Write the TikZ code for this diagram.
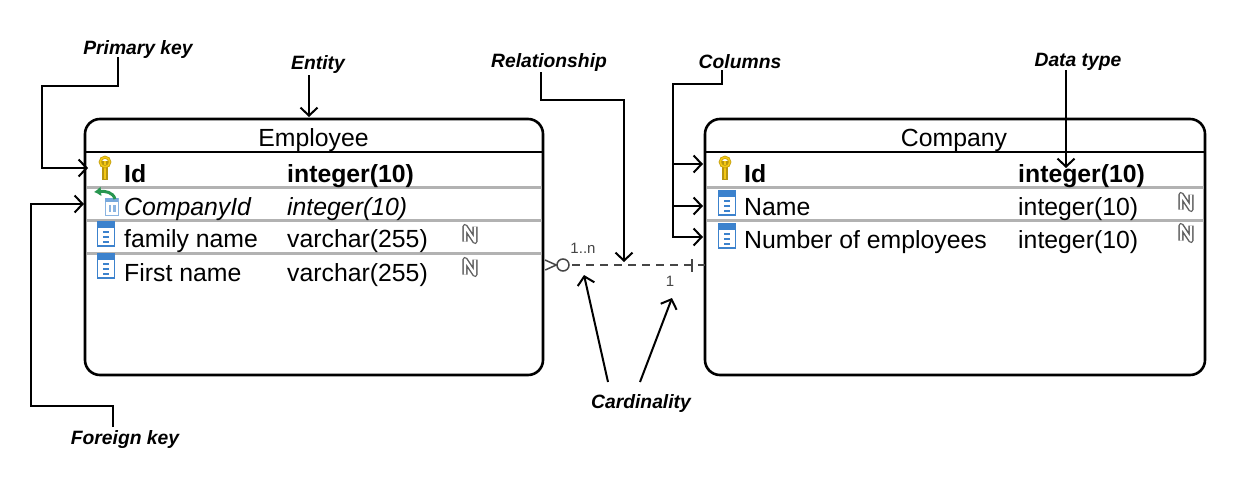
\documentclass[tikz,border=0pt]{standalone}
\usepackage{fontspec}
\setmainfont{Liberation Sans}
\usetikzlibrary{positioning,arrows.meta,calc}
\definecolor{rowline}{RGB}{178,178,178}
\definecolor{keygold}{RGB}{245,200,20}
\definecolor{iconblue}{RGB}{60,130,205}
\definecolor{fkgreen}{RGB}{40,150,80}
\definecolor{relgray}{RGB}{70,70,70}
\newcommand{\cellsize}{\fontsize{24.8}{28}\selectfont}
\tikzset{
  entity/.style={draw,line width=2.6pt,rounded corners=15pt,minimum width=#1,minimum height=256pt,inner sep=0pt,outer sep=0pt},
  title/.style={inner sep=0pt,anchor=base,font=\cellsize},
  cell/.style={inner sep=0pt,anchor=base west,font=\cellsize},
  note/.style={inner sep=0pt,font=\fontsize{19.3}{22}\selectfont\bfseries\itshape},
  mult/.style={inner sep=0pt,text=relgray,font=\fontsize{15}{18}\selectfont},
  pointer/.style={line width=2pt,-{Straight Barb[length=8pt,width=17pt,line width=2pt]}},
  rowsep/.style={rowline,line width=3pt},
  keyicon/.pic={
    \fill[keygold!75!black] (-2.6,-6) rectangle (2.6,13);
    \fill[keygold] (-1.3,-6) rectangle (1.3,12);
    \draw[keygold!80!black,line width=3pt] (0,-5) circle (4.8);
    \draw[keygold,line width=1.4pt] (0,-5) circle (4.8);
  },
  colicon/.pic={
    \draw[iconblue,fill=white,line width=1.4pt] (-8.5,-12) rectangle (8.5,12);
    \fill[iconblue] (-8.5,-12) rectangle (8.5,-6);
    \foreach \yy in {-2,3,8} {\fill[iconblue] (-3,\yy-1) rectangle (3,\yy+1);}
  },
  fkicon/.pic={
    \draw[iconblue!60,fill=white,line width=1pt] (-6,-4) rectangle (7,13);
    \fill[iconblue!70] (-6,-4) rectangle (7,0);
    \foreach \xx in {-1,3.5} {\fill[iconblue!60] (\xx-1.3,3) rectangle (\xx+1.3,10);}
    \draw[fkgreen,line width=3pt,-{Latex[length=7pt,width=10pt]}] (4,-3) .. controls (2,-10) and (-6,-11) .. (-17,-10);
  },
  nullicon/.pic={
    \draw[gray!75!black,line width=5.4pt,line join=round] (-5,7.5) -- (-5,-7.5) -- (5,7.5) -- (5,-7.5);
    \draw[white,line width=2.4pt,line join=round] (-5,7.5) -- (-5,-7.5) -- (5,7.5) -- (5,-7.5);
  },
}
\begin{document}
\begin{tikzpicture}[x=1pt,y=-1pt]
  \useasboundingbox[fill=white] (0,0) rectangle (1242,482);
  % entities
  \node[entity=458pt] (employee) at (314,247) {};
  \node[entity=500pt] (company) at (955,247) {};
  \node[title] (employeename) at (313.5,146) {Employee};
  \node[title] (companyname) at (954,146) {Company};
  \draw[line width=2pt] (employee.west |- 0,152) -- (employee.east |- 0,152);
  \draw[line width=2pt] (company.west |- 0,152) -- (company.east |- 0,152);
  \foreach \y in {187,220,253} {
    \draw[rowsep] (87,\y) -- (542,\y);}
  \foreach \y in {187,220} {
    \draw[rowsep] (707,\y) -- (1204,\y);}
  % employee columns
  \node[cell,font=\cellsize\bfseries] (empid) at (124,182) {Id};
  \node[cell,font=\cellsize\bfseries] (empidtype) at (287,182) {integer(10)};
  \node[cell,font=\cellsize\itshape] (empfk) at (124,215) {CompanyId};
  \node[cell,font=\cellsize\itshape] (empfktype) at (287,215) {integer(10)};
  \node[cell] (empfamily) at (124,247) {family name};
  \node[cell] (empfamilytype) at (287,247) {varchar(255)};
  \node[cell] (empfirst) at (124,281) {First name};
  \node[cell] (empfirsttype) at (287,281) {varchar(255)};
  \pic at (105,167) {keyicon};
  \pic at (111,202) {fkicon};
  \pic at (106,234) {colicon};
  \pic at (106,266) {colicon};
  \pic at (470,234) {nullicon};
  \pic at (470,267) {nullicon};
  % company columns
  \node[cell,font=\cellsize\bfseries] (comid) at (744,182) {Id};
  \node[cell,font=\cellsize\bfseries] (comidtype) at (1018,182) {integer(10)};
  \node[cell] (comname) at (744,215) {Name};
  \node[cell] (comnametype) at (1018,215) {integer(10)};
  \node[cell] (comcount) at (744,248) {Number of employees};
  \node[cell] (comcounttype) at (1018,248) {integer(10)};
  \pic at (725,167) {keyicon};
  \pic at (727,203) {colicon};
  \pic at (727,236) {colicon};
  \pic at (1186,202) {nullicon};
  \pic at (1186,233) {nullicon};
  % relationship
  \coordinate (crow) at (employee.east |- 0,265);
  \coordinate (bar) at (company.west |- 0,265);
  \node[draw=relgray,circle,line width=1.5pt,minimum size=12pt,inner sep=0pt] (relcircle) at (563,265) {};
  \draw[relgray,line width=1.5pt] (crow) ++(2,-5) -- (relcircle.west) -- ++(-11,5);
  \draw[relgray,line width=2pt,dash pattern=on 8pt off 6pt] (572,265) -- (bar);
  \draw[relgray,line width=1.5pt] (692,259) -- (692,272);
  \node[mult] (manylabel) at (583,248) {1..n};
  \node[mult] (onelabel) at (670,281) {1};
  % annotations
  \node[note] (pknote) at (138,50) {Primary key};
  \node[note] (entitynote) at (318,65) {Entity};
  \node[note] (relnote) at (549,63) {Relationship};
  \node[note] (colnote) at (740,62) {Columns};
  \node[note] (typenote) at (1078,62) {Data type};
  \node[note] (cardnote) at (641,404) {Cardinality};
  \node[note] (fknote) at (125,440) {Foreign key};
  \draw[pointer] (118,57) -- (118,86) -- (42,86) -- (42,168) -- (88,168);
  \draw[pointer] (309,75) -- (309,117);
  \draw[pointer] (541,72) -- (541,100) -- (624,100) -- (624,262);
  \draw[pointer] (722,70) -- (722,84) -- (673,84) -- (673,237) -- (703,237);
  \draw[pointer] (673,164) -- (703,164);
  \draw[pointer] (673,206) -- (703,206);
  \draw[pointer] (1066,70) -- (1066,168);
  \draw[pointer] (608,382) -- (584,275);
  \draw[pointer] (640,382) -- (672,298);
  \draw[pointer] (113,427) -- (113,406) -- (31,406) -- (31,204) -- (84,204);
\end{tikzpicture}
\end{document}
